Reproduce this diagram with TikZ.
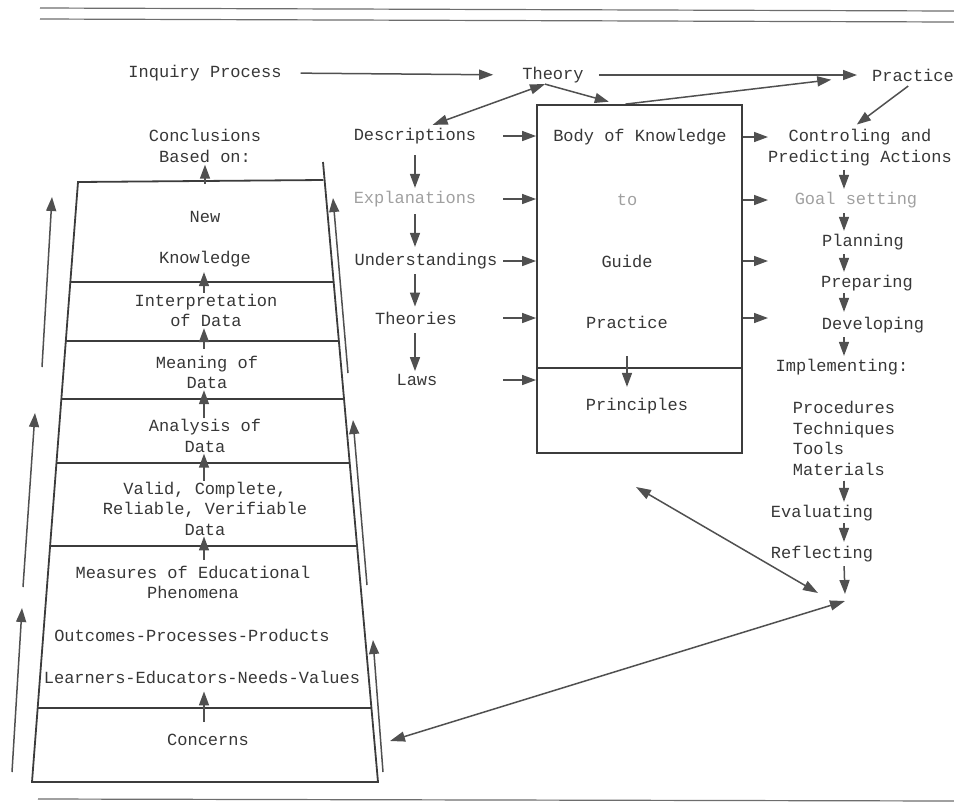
\documentclass[tikz,border=0pt]{standalone}
\usepackage{fontspec}
\setmonofont{Liberation Mono}
\usepackage{tikz}
\definecolor{ink}{RGB}{55,55,55}
\definecolor{faint}{RGB}{160,160,160}
\definecolor{arrowgray}{RGB}{80,80,80}
\definecolor{rulegray}{RGB}{60,60,60}
\usetikzlibrary{arrows.meta}
\usetikzlibrary{calc}
\pgfdeclarelayer{edgelayer}
\pgfdeclarelayer{nodelayer}
\pgfsetlayers{edgelayer,nodelayer,main}
\newcommand{\typefont}{\ttfamily\fontsize{17}{20.5}\selectfont}
\tikzstyle{txt}=[font=\typefont,text=ink,inner sep=1pt,align=center]
\tikzstyle{dimtxt}=[txt,text=faint]
\tikzstyle{arr}=[-{Triangle[length=14pt,width=10pt]},line width=1.5pt,draw=arrowgray,fill=arrowgray]
\tikzstyle{darr}=[{Triangle[length=15pt,width=10pt]}-{Triangle[length=15pt,width=10pt]},line width=1.5pt,draw=arrowgray,fill=arrowgray]
\tikzstyle{frame}=[draw=rulegray,line width=1.8pt]
\tikzstyle{rule}=[draw=rulegray!75,line width=1.2pt]

\begin{document}
\begin{tikzpicture}[x=1pt,y=-1pt]
        \useasboundingbox (0,0) rectangle (954,807);
        \begin{pgfonlayer}{nodelayer}
            % top row
            \node [style = txt] (inq) at (205, 73) {Inquiry Process};
            \node [style = txt] (theory) at (553, 75) {Theory};
            \node [style = txt] (practice) at (913, 75) {Practice};
            % body of knowledge box
            \node [style = frame, minimum width=205pt, minimum height=348pt] (box) at (639.5, 279) {};
            \node [style = txt] (bok) at (640, 137) {Body of Knowledge};
            \node [style = dimtxt] (bto) at (627, 200) {to};
            \node [style = txt] (guide) at (627, 261) {Guide};
            \node [style = txt] (bprac) at (627, 322) {Practice};
            \node [style = txt] (princ) at (637, 406) {Principles};
            % middle column
            \node [style = txt] (desc) at (415, 136) {Descriptions};
            \node [style = dimtxt] (expl) at (415, 199) {Explanations};
            \node [style = txt] (under) at (426, 261) {Understandings};
            \node [style = txt] (theo) at (416, 318) {Theories};
            \node [style = txt] (laws) at (417, 380) {Laws};
            % right column
            \node [style = txt] (ctrl) at (860, 147.5) {Controling and\\Predicting Actions};
            \node [style = dimtxt] (goal) at (856, 200) {Goal setting};
            \node [style = txt] (plan) at (863, 242) {Planning};
            \node [style = txt] (prep) at (867, 283) {Preparing};
            \node [style = txt] (dev) at (873, 325) {Developing};
            \node [style = txt] (impl) at (842, 367) {Implementing:};
            \node [style = txt, align=left] (tools) at (844, 438.5) {Procedures\\Techniques\\Tools\\Materials};
            \node [style = txt] (eval) at (822, 513) {Evaluating};
            \node [style = txt] (refl) at (822, 554) {Reflecting};
            % trapezoid
            \node [style = txt] (concl) at (205, 146) {Conclusions\\Based on:};
            \node [style = txt] (new) at (205, 217) {New};
            \node [style = txt] (know) at (205, 259) {Knowledge};
            \node [style = txt] (interp) at (206, 310.5) {Interpretation\\of Data};
            \node [style = txt] (mean) at (207, 372.5) {Meaning of\\Data};
            \node [style = txt] (anal) at (205, 436) {Analysis of\\Data};
            \node [style = txt] (valid) at (205, 508.5) {Valid, Complete,\\Reliable, Verifiable\\Data};
            \node [style = txt] (meas) at (193, 582.5) {Measures of Educational\\Phenomena};
            \node [style = txt] (outc) at (192, 635) {Outcomes-Processes-Products};
            \node [style = txt] (learn) at (202, 677) {Learners-Educators-Needs-Values};
            \node [style = txt] (conc) at (208, 740) {Concerns};
        \end{pgfonlayer}

        % free ends and corners
        \coordinate (rl1) at (40, 8);   \coordinate (rr1) at (954, 11);
        \coordinate (rl2) at (40, 19);  \coordinate (rr2) at (954, 22);
        \coordinate (rl3) at (38, 799); \coordinate (rr3) at (954, 801);
        \coordinate (ttl) at (78, 182); \coordinate (ttr) at (323, 180);
        \coordinate (trs) at (323, 162);
        \coordinate (tbl) at (32, 782); \coordinate (tbr) at (378, 782);
        \coordinate (topmid) at (205, 184);
        \coordinate (divy) at (0, 368);
        \coordinate (lin) at (503, 0);
        \coordinate (rout) at (768, 0);
        \coordinate (rc) at (844, 0);
        \coordinate (lc) at (204, 0);
        \coordinate (meet) at (845, 594);
        \coordinate (pa) at (636, 487);  \coordinate (pb) at (818, 593);
        \coordinate (ca) at (390, 741);  \coordinate (cb) at (845, 601);
        \coordinate (la1) at (42, 367);  \coordinate (la1h) at (52, 197);
        \coordinate (la2) at (23, 587);  \coordinate (la2h) at (35, 413);
        \coordinate (la3) at (12, 772);  \coordinate (la3h) at (22, 608);
        \coordinate (ra1) at (348, 373); \coordinate (ra1h) at (333, 198);
        \coordinate (ra2) at (367, 585); \coordinate (ra2h) at (353, 420);
        \coordinate (ra3) at (383, 772); \coordinate (ra3h) at (373, 640);

        \begin{pgfonlayer}{edgelayer}
            % page rules
            \draw [style = rule] (rl1) to (rr1);
            \draw [style = rule] (rl2) to (rr2);
            \draw [style = rule] (rl3) to (rr3);

            % top row
            \draw [style = arr, shorten <=18pt, shorten >=28pt] (inq.east) to (theory.west);
            \draw [style = arr, shorten <=14pt, shorten >=14pt] (theory.east) to (practice.west);
            \draw [style = darr, shorten >=6pt] ([xshift=-8pt]theory.south) to ([xshift=12pt]desc.north);
            \draw [style = arr, shorten >=9pt] ([xshift=-8pt]theory.south) to ([xshift=-22pt]box.north);
            \draw [style = arr, shorten >=40pt] ([xshift=-14pt]box.north) to (practice.west);
            \draw [style = arr, shorten <=6pt, shorten >=6pt] (practice.south) to ([xshift=-8pt]ctrl.north);

            % box
            \draw [style = frame] (box.west |- divy) to (box.east |- divy);
            \draw [style = arr, shorten <=27pt, shorten >=10pt] (bprac.south) to (princ.north -| bprac);

            % middle column
            \draw [style = arr, shorten <=10pt, shorten >=2pt] (desc.south) to (expl.north);
            \draw [style = arr, shorten <=6pt, shorten >=5pt] (expl.south) to (under.north -| expl);
            \draw [style = arr, shorten <=4pt, shorten >=4pt] (under.south -| expl) to (theo.north -| expl);
            \draw [style = arr, shorten <=8pt, shorten >=2pt] (theo.south -| expl) to (laws.north -| expl);
            \draw [style = arr] (desc -| lin) to (desc -| box.west);
            \draw [style = arr] (expl -| lin) to (expl -| box.west);
            \draw [style = arr] (under -| lin) to (under -| box.west);
            \draw [style = arr] (theo -| lin) to (theo -| box.west);
            \draw [style = arr] (laws -| lin) to (laws -| box.west);

            % right column
            \draw [style = arr] (bok -| box.east) to (bok -| rout);
            \draw [style = arr] (bto -| box.east) to (bto -| rout);
            \draw [style = arr] (guide -| box.east) to (guide -| rout);
            \draw [style = arr] ([yshift=4pt]bprac -| box.east) to ([yshift=4pt]bprac -| rout);
            \draw [style = arr, shorten <=3pt, shorten >=2pt] (ctrl.south -| rc) to (goal.north -| rc);
            \draw [style = arr, shorten <=4pt, shorten >=2pt] (goal.south -| rc) to (plan.north -| rc);
            \draw [style = arr, shorten <=3pt, shorten >=2pt] (plan.south -| rc) to (prep.north -| rc);
            \draw [style = arr, shorten <=1pt, shorten >=4pt] (prep.south -| rc) to (dev.north -| rc);
            \draw [style = arr, shorten <=3pt, shorten >=2pt] (dev.south -| rc) to (impl.north -| rc);
            \draw [style = arr, shorten <=4pt, shorten >=2pt] (tools.south -| rc) to (eval.north -| rc);
            \draw [style = arr, shorten <=1pt, shorten >=3pt] (eval.south -| rc) to (refl.north -| rc);
            \draw [style = arr, shorten <=3pt] (refl.south -| rc) to (meet);
            \draw [style = darr] (pa) to (pb);
            \draw [style = darr] (ca) to (cb);

            % trapezoid
            \draw [style = frame] (trs) -- (tbr) -- (tbl) -- (ttl) -- (ttr);
            \foreach \y in {282,341,399,463,546,708} {
                \pgfmathsetmacro\fl{(\y-182)/600}
                \pgfmathsetmacro\fr{(\y-162)/620}
                \draw [style = frame] ($(ttl)!\fl!(tbl)$) -- ($(trs)!\fr!(tbr)$);
            }
            \draw [style = arr, shorten >=1pt] (topmid) to (concl.south -| topmid);
            \draw [style = arr, shorten >=4pt] (interp.north -| lc) to (know.south -| lc);
            \draw [style = arr, shorten <=6pt] (mean.north -| lc) to (interp.south -| lc);
            \draw [style = arr] (anal.north -| lc) to (mean.south -| lc);
            \draw [style = arr] (valid.north -| lc) to (anal.south -| lc);
            \draw [style = arr, shorten <=5pt] (meas.north -| lc) to (valid.south -| lc);
            \draw [style = arr, shorten <=11pt, shorten >=7pt] (conc.north -| lc) to (learn.south -| lc);

            % side arrows
            \draw [style = arr] (la1) to (la1h);
            \draw [style = arr] (la2) to (la2h);
            \draw [style = arr] (la3) to (la3h);
            \draw [style = arr] (ra1) to (ra1h);
            \draw [style = arr] (ra2) to (ra2h);
            \draw [style = arr] (ra3) to (ra3h);
        \end{pgfonlayer}
    \end{tikzpicture}
\end{document}
